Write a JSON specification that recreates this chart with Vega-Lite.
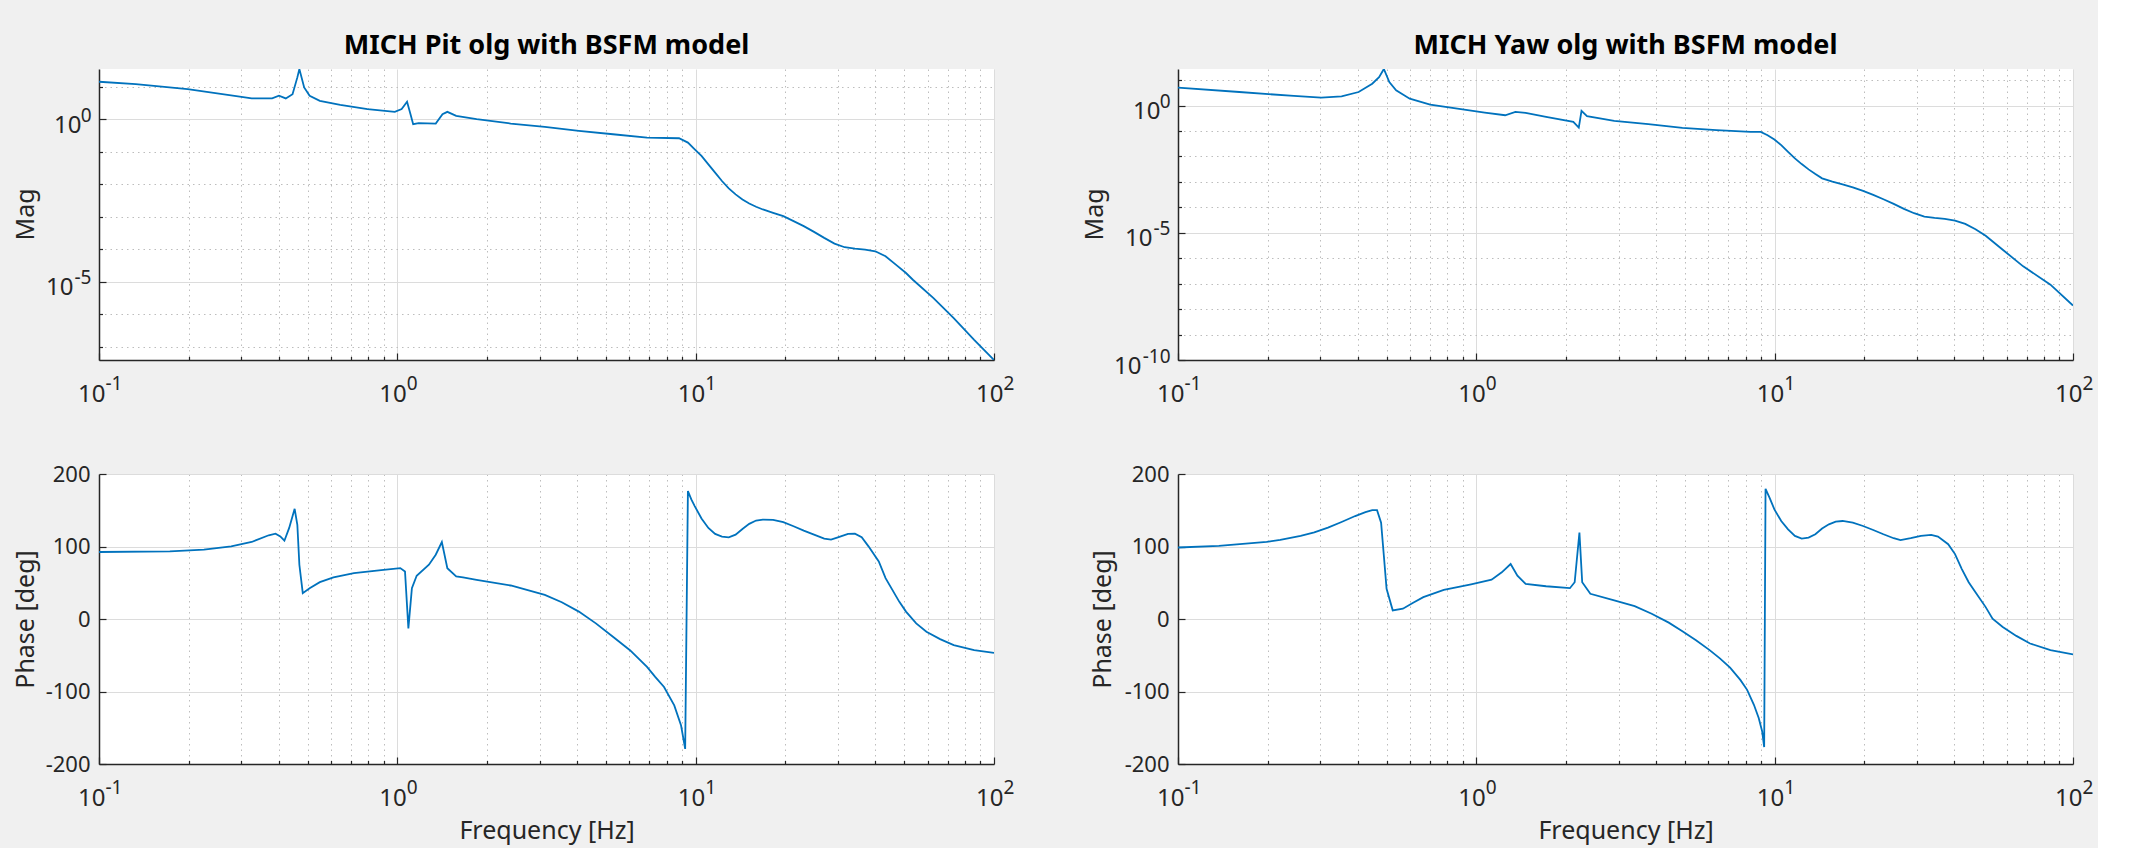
{
  "$schema": "https://vega.github.io/schema/vega-lite/v6.json",
  "background": "#f0f0f0",
  "padding": {"left": 13, "top": 31, "right": 5, "bottom": 5},
  "datasets": {
    "pitMag": [
      {"f": 0.1, "m": 14.19}, {"f": 0.1328, "m": 12.02}, {"f": 0.1982, "m": 8.433}, {"f": 0.3003, "m": 4.887},
      {"f": 0.3249, "m": 4.345}, {"f": 0.3805, "m": 4.345}, {"f": 0.4011, "m": 5.248}, {"f": 0.4227, "m": 4.345},
      {"f": 0.4454, "m": 5.888}, {"f": 0.4622, "m": 19.32}, {"f": 0.4695, "m": 34.7}, {"f": 0.4872, "m": 9.484},
      {"f": 0.5082, "m": 5.248}, {"f": 0.5498, "m": 3.681}, {"f": 0.6436, "m": 2.754}, {"f": 0.7946, "m": 2.042},
      {"f": 0.9806, "m": 1.683}, {"f": 1.034, "m": 2.042}, {"f": 1.078, "m": 3.428}, {"f": 1.107, "m": 1.426},
      {"f": 1.13, "m": 0.7015}, {"f": 1.179, "m": 0.7534}, {"f": 1.345, "m": 0.7345}, {"f": 1.417, "m": 1.426},
      {"f": 1.471, "m": 1.683}, {"f": 1.575, "m": 1.268}, {"f": 1.844, "m": 1.0}, {"f": 2.399, "m": 0.7345},
      {"f": 3.121, "m": 0.5794}, {"f": 4.059, "m": 0.4365}, {"f": 5.281, "m": 0.3443}, {"f": 6.869, "m": 0.2716},
      {"f": 8.795, "m": 0.2594}, {"f": 9.419, "m": 0.1905}, {"f": 9.927, "m": 0.1186}, {"f": 10.46, "m": 0.07379},
      {"f": 11.03, "m": 0.04083}, {"f": 11.62, "m": 0.02259}, {"f": 12.25, "m": 0.0125}, {"f": 12.91, "m": 0.007413},
      {"f": 13.61, "m": 0.004842}, {"f": 14.35, "m": 0.003396}, {"f": 15.12, "m": 0.002553}, {"f": 15.94, "m": 0.002018},
      {"f": 16.8, "m": 0.001667}, {"f": 18.18, "m": 0.001315}, {"f": 19.67, "m": 0.001038}, {"f": 21.29, "m": 0.0007278},
      {"f": 23.03, "m": 0.0005105}, {"f": 24.93, "m": 0.0003412}, {"f": 26.97, "m": 0.0002228}, {"f": 29.19, "m": 0.0001489},
      {"f": 31.58, "m": 0.0001148}, {"f": 34.18, "m": 0.0001044}, {"f": 36.98, "m": 0.00009727}, {"f": 40.02, "m": 0.0000863},
      {"f": 43.3, "m": 0.00006053}, {"f": 46.87, "m": 0.0000335}, {"f": 50.7, "m": 0.00001849}, {"f": 53.46, "m": 0.00001148},
      {"f": 62.56, "m": 0.000003162}, {"f": 73.28, "m": 7.586e-7}, {"f": 85.8, "m": 1.622e-7}, {"f": 100, "m": 3.89e-8}
    ],
    "pitPhase": [
      {"f": 0.1, "p": 92.4}, {"f": 0.1728, "p": 93.3}, {"f": 0.2248, "p": 95.6}, {"f": 0.2774, "p": 100.2},
      {"f": 0.3249, "p": 106.2}, {"f": 0.3706, "p": 115.5}, {"f": 0.3906, "p": 117.8}, {"f": 0.4053, "p": 114},
      {"f": 0.4183, "p": 108}, {"f": 0.434, "p": 125.6}, {"f": 0.4527, "p": 152}, {"f": 0.4622, "p": 130},
      {"f": 0.4695, "p": 74.8}, {"f": 0.482, "p": 35.6}, {"f": 0.5082, "p": 42.5}, {"f": 0.5498, "p": 50.8},
      {"f": 0.6107, "p": 57.3}, {"f": 0.7153, "p": 63.3}, {"f": 0.883, "p": 67.4}, {"f": 1.023, "p": 70.2},
      {"f": 1.061, "p": 65.6}, {"f": 1.089, "p": -12.9}, {"f": 1.119, "p": 42.5}, {"f": 1.161, "p": 59.6},
      {"f": 1.276, "p": 74.8}, {"f": 1.345, "p": 88.7}, {"f": 1.41, "p": 106.2}, {"f": 1.471, "p": 70},
      {"f": 1.575, "p": 58.7}, {"f": 1.66, "p": 57.3}, {"f": 1.844, "p": 54}, {"f": 2.399, "p": 46.2},
      {"f": 3.121, "p": 33.3}, {"f": 3.558, "p": 23.1}, {"f": 4.059, "p": 10.2}, {"f": 4.629, "p": -6},
      {"f": 5.281, "p": -24.5}, {"f": 6.023, "p": -43}, {"f": 6.869, "p": -66}, {"f": 7.317, "p": -79.9},
      {"f": 7.834, "p": -93.8}, {"f": 8.477, "p": -119.2}, {"f": 8.935, "p": -146.9}, {"f": 9.222, "p": -179.2},
      {"f": 9.32, "p": -1.4}, {"f": 9.419, "p": 176.4}, {"f": 9.669, "p": 164.9}, {"f": 9.927, "p": 155.7},
      {"f": 10.46, "p": 138.6}, {"f": 11.03, "p": 125.6}, {"f": 11.62, "p": 117.3}, {"f": 12.25, "p": 113.6},
      {"f": 12.91, "p": 112.7}, {"f": 13.61, "p": 116.4}, {"f": 14.35, "p": 124.2}, {"f": 15.12, "p": 131.2},
      {"f": 15.94, "p": 135.8}, {"f": 16.8, "p": 137.2}, {"f": 18.18, "p": 136.7}, {"f": 19.67, "p": 133.5},
      {"f": 21.29, "p": 127.9}, {"f": 23.03, "p": 121.9}, {"f": 24.93, "p": 116.4}, {"f": 26.97, "p": 110.9},
      {"f": 28.43, "p": 109.5}, {"f": 29.97, "p": 112.7}, {"f": 32.42, "p": 117.3}, {"f": 34.18, "p": 117.8},
      {"f": 36.02, "p": 112.7}, {"f": 37.96, "p": 100.2}, {"f": 41.09, "p": 79.4}, {"f": 43.3, "p": 56.4},
      {"f": 48.11, "p": 24}, {"f": 50.7, "p": 10.2}, {"f": 54.86, "p": -6}, {"f": 59.36, "p": -17.6},
      {"f": 65.96, "p": -27.7}, {"f": 73.28, "p": -36}, {"f": 85.8, "p": -43}, {"f": 100, "p": -46.6}
    ],
    "yawMag": [
      {"f": 0.1, "m": 5.07}, {"f": 0.1605, "m": 3.428}, {"f": 0.2445, "m": 2.393}, {"f": 0.3019, "m": 2.056},
      {"f": 0.3534, "m": 2.323}, {"f": 0.4031, "m": 3.428}, {"f": 0.4478, "m": 7.278}, {"f": 0.4721, "m": 13.18},
      {"f": 0.4898, "m": 27.54}, {"f": 0.5109, "m": 8.453}, {"f": 0.5384, "m": 3.981}, {"f": 0.5981, "m": 1.879},
      {"f": 0.7003, "m": 1.094}, {"f": 0.8643, "m": 0.7638}, {"f": 1.067, "m": 0.5321}, {"f": 1.249, "m": 0.4178},
      {"f": 1.352, "m": 0.5649}, {"f": 1.463, "m": 0.5164}, {"f": 1.713, "m": 0.3597}, {"f": 2.114, "m": 0.2291},
      {"f": 2.205, "m": 0.1374}, {"f": 2.252, "m": 0.618}, {"f": 2.349, "m": 0.382}, {"f": 2.899, "m": 0.2512},
      {"f": 3.771, "m": 0.1858}, {"f": 4.906, "m": 0.1334}, {"f": 6.381, "m": 0.1081}, {"f": 8.3, "m": 0.0931},
      {"f": 8.982, "m": 0.0931}, {"f": 9.467, "m": 0.06887}, {"f": 9.979, "m": 0.04659}, {"f": 10.52, "m": 0.02793},
      {"f": 11.09, "m": 0.01531}, {"f": 11.69, "m": 0.008395}, {"f": 12.32, "m": 0.005036}, {"f": 12.99, "m": 0.003113},
      {"f": 13.69, "m": 0.002044}, {"f": 14.42, "m": 0.001384}, {"f": 15.61, "m": 0.001023}, {"f": 16.89, "m": 0.0008054},
      {"f": 18.28, "m": 0.0006151}, {"f": 19.78, "m": 0.0004416}, {"f": 21.4, "m": 0.0003076}, {"f": 23.15, "m": 0.0002083},
      {"f": 25.06, "m": 0.0001368}, {"f": 27.12, "m": 0.0000871}, {"f": 29.34, "m": 0.0000589}, {"f": 31.75, "m": 0.0000436},
      {"f": 34.36, "m": 0.0000386}, {"f": 37.17, "m": 0.0000353}, {"f": 40.23, "m": 0.0000304}, {"f": 43.53, "m": 0.0000225},
      {"f": 47.11, "m": 0.0000139}, {"f": 50.97, "m": 0.00000764}, {"f": 58.14, "m": 0.00000216}, {"f": 68.08, "m": 4.8e-7},
      {"f": 84.03, "m": 9.18e-8}, {"f": 100, "m": 1.38e-8}
    ],
    "yawPhase": [
      {"f": 0.1, "p": 98.6}, {"f": 0.1371, "p": 100.9}, {"f": 0.1982, "p": 106.4}, {"f": 0.2202, "p": 109.1},
      {"f": 0.2577, "p": 114.6}, {"f": 0.2863, "p": 119.6}, {"f": 0.3182, "p": 126}, {"f": 0.3534, "p": 133.8},
      {"f": 0.3926, "p": 142}, {"f": 0.4249, "p": 147.3}, {"f": 0.4478, "p": 150.2}, {"f": 0.4647, "p": 150.2},
      {"f": 0.4795, "p": 132.9}, {"f": 0.4898, "p": 87.2}, {"f": 0.5002, "p": 41.6}, {"f": 0.5245, "p": 11.9},
      {"f": 0.5674, "p": 14.2}, {"f": 0.614, "p": 22.4}, {"f": 0.6643, "p": 30.1}, {"f": 0.778, "p": 40.2},
      {"f": 0.9603, "p": 47.9}, {"f": 1.125, "p": 54.3}, {"f": 1.217, "p": 64.4}, {"f": 1.303, "p": 75.8},
      {"f": 1.373, "p": 59.8}, {"f": 1.463, "p": 48.4}, {"f": 1.713, "p": 45.2}, {"f": 2.059, "p": 42.5},
      {"f": 2.136, "p": 50.7}, {"f": 2.216, "p": 119.2}, {"f": 2.264, "p": 50.7}, {"f": 2.411, "p": 34.7},
      {"f": 2.899, "p": 25.6}, {"f": 3.394, "p": 17.8}, {"f": 3.87, "p": 7.3}, {"f": 4.416, "p": -5},
      {"f": 4.906, "p": -16.9}, {"f": 5.449, "p": -29.2}, {"f": 6.053, "p": -42.9}, {"f": 6.551, "p": -54.3},
      {"f": 7.089, "p": -67.1}, {"f": 7.672, "p": -84}, {"f": 8.085, "p": -97.7}, {"f": 8.52, "p": -118.3},
      {"f": 8.841, "p": -136.5}, {"f": 9.078, "p": -154.8}, {"f": 9.222, "p": -176.7}, {"f": 9.271, "p": 0.5},
      {"f": 9.32, "p": 179.5}, {"f": 9.618, "p": 167.1}, {"f": 9.979, "p": 151.1}, {"f": 10.52, "p": 135.2},
      {"f": 11.09, "p": 123.7}, {"f": 11.69, "p": 114.6}, {"f": 12.32, "p": 111}, {"f": 12.99, "p": 112.3},
      {"f": 13.69, "p": 116.9}, {"f": 14.42, "p": 124.7}, {"f": 15.2, "p": 130.6}, {"f": 16.02, "p": 134.2},
      {"f": 16.89, "p": 135.2}, {"f": 18.28, "p": 132.9}, {"f": 19.78, "p": 128.3}, {"f": 21.4, "p": 122.8},
      {"f": 23.15, "p": 116.9}, {"f": 25.06, "p": 111.4}, {"f": 26.41, "p": 108.7}, {"f": 28.58, "p": 111.4},
      {"f": 30.93, "p": 114.6}, {"f": 33.47, "p": 116}, {"f": 35.27, "p": 113.7}, {"f": 38.16, "p": 103.2},
      {"f": 40.23, "p": 89.5}, {"f": 42.4, "p": 68.9}, {"f": 44.7, "p": 50.7}, {"f": 47.11, "p": 37},
      {"f": 50.97, "p": 16.4}, {"f": 53.74, "p": 0.5}, {"f": 58.14, "p": -11}, {"f": 64.57, "p": -23.3},
      {"f": 71.77, "p": -33.8}, {"f": 84.03, "p": -42.9}, {"f": 100, "p": -48.9}
    ]
  },
  "columns": 2,
  "spacing": {"row": 114, "column": 184},
  "bounds": "flush",
  "concat": [
    {
      "width": 895,
      "height": 291,
      "title": {"text": "MICH Pit olg with BSFM model", "offset": 9, "anchor": "middle"},
      "data": {"name": "pitMag"},
      "resolve": {"axis": {"x": "independent", "y": "independent"}},
      "layer": [
        {
          "mark": {"type": "line", "strokeOpacity": 0},
          "encoding": {
            "x": {"field": "f", "type": "quantitative", "scale": {"type": "log", "domain": [0.1, 100], "nice": false},
              "axis": {"orient": "bottom", "values": [0.1, 0.2, 0.3, 0.4, 0.5, 0.6, 0.7, 0.8, 0.9, 1, 2, 3, 4, 5, 6, 7, 8, 9, 10, 20, 30, 40, 50, 60, 70, 80, 90, 100],
                "labels": false, "title": null, "grid": true,
                "gridColor": {"condition": {"test": "abs(log(datum.value)/LN10-round(log(datum.value)/LN10))<0.01", "value": "#dcdcdc"}, "value": "#bdbdbd"},
                "gridDash": {"condition": {"test": "abs(log(datum.value)/LN10-round(log(datum.value)/LN10))<0.01", "value": []}, "value": [1.5, 4]},
                "tickSize": {"condition": {"test": "abs(log(datum.value)/LN10-round(log(datum.value)/LN10))<0.01", "value": -7}, "value": -3.5},
                "tickColor": "#262626", "tickWidth": 1.2, "domainColor": "#262626", "domainWidth": 1.5}},
            "y": {"field": "m", "type": "quantitative", "scale": {"type": "log", "domain": [3.89e-8, 35], "nice": false},
              "axis": {"orient": "left", "values": [10, 1, 0.1, 0.01, 0.001, 0.0001, 0.00001, 0.000001, 1e-7],
                "labels": false, "grid": true,
                "gridColor": {"condition": {"test": "abs(round(log(datum.value)/LN10))%5==0", "value": "#dcdcdc"}, "value": "#bdbdbd"},
                "gridDash": {"condition": {"test": "abs(round(log(datum.value)/LN10))%5==0", "value": []}, "value": [1.5, 4]},
                "tickSize": {"condition": {"test": "abs(round(log(datum.value)/LN10))%5==0", "value": -7}, "value": -3.5},
                "tickColor": "#262626", "tickWidth": 1.2, "domainColor": "#262626", "domainWidth": 1.5,
                "title": "Mag", "titleX": -66, "titleY": 145, "titleAngle": 270, "titleAlign": "center", "titleBaseline": "alphabetic"}}
          }
        },
        {
          "mark": {"type": "line", "strokeOpacity": 0},
          "encoding": {
            "x": {"field": "f", "type": "quantitative", "scale": {"type": "log", "domain": [0.1, 100], "nice": false},
              "axis": {"orient": "bottom", "values": [0.1, 1, 10, 100], "labelExpr": "'10'", "grid": false, "ticks": false, "tickSize": 0, "domain": false, "title": null,
                "labelFontSize": 24, "labelAlign": "right", "labelBaseline": "alphabetic", "labelPadding": 41, "labelFlush": false, "labelOverlap": false,
                "labelOffset": {"condition": {"test": "datum.value<0.5", "value": 6}, "value": 9}}},
            "y": {"field": "m", "type": "quantitative", "scale": {"type": "log", "domain": [3.89e-8, 35], "nice": false},
              "axis": {"orient": "left", "values": [1, 0.00001], "labelExpr": "'10'", "grid": false, "ticks": false, "tickSize": 0, "domain": false, "title": null,
                "labelFontSize": 24, "labelAlign": "right", "labelBaseline": "alphabetic", "labelOffset": 13, "labelFlush": false, "labelOverlap": false,
                "labelPadding": {"condition": {"test": "datum.value<0.1", "value": 26}, "value": 18}}}
          }
        },
        {
          "mark": {"type": "line", "color": "#0072bd", "strokeWidth": 1.8, "clip": true},
          "encoding": {
            "x": {"field": "f", "type": "quantitative", "scale": {"type": "log", "domain": [0.1, 100], "nice": false},
              "axis": {"orient": "bottom", "values": [0.1, 1, 10, 100], "labelExpr": "'' + round(log(datum.value)/LN10)", "grid": false, "ticks": false, "tickSize": 0, "domain": false, "title": null,
                "labelFontSize": 19, "labelAlign": "left", "labelBaseline": "alphabetic", "labelPadding": 29, "labelFlush": false, "labelOverlap": false,
                "labelOffset": {"condition": {"test": "datum.value<0.5", "value": 6}, "value": 9}}},
            "y": {"field": "m", "type": "quantitative", "scale": {"type": "log", "domain": [3.89e-8, 35], "nice": false},
              "axis": {"orient": "left", "values": [1, 0.00001], "labelExpr": "'' + round(log(datum.value)/LN10)", "grid": false, "ticks": false, "tickSize": 0, "domain": false, "title": null,
                "labelFontSize": 19, "labelAlign": "right", "labelBaseline": "alphabetic", "labelOffset": 2, "labelPadding": 8, "labelFlush": false, "labelOverlap": false}}
          }
        }
      ]
    },
    {
      "width": 895,
      "height": 291,
      "title": {"text": "MICH Yaw olg with BSFM model", "offset": 9, "anchor": "middle"},
      "data": {"name": "yawMag"},
      "resolve": {"axis": {"x": "independent", "y": "independent"}},
      "layer": [
        {
          "mark": {"type": "line", "strokeOpacity": 0},
          "encoding": {
            "x": {"field": "f", "type": "quantitative", "scale": {"type": "log", "domain": [0.1, 100], "nice": false},
              "axis": {"orient": "bottom", "values": [0.1, 0.2, 0.3, 0.4, 0.5, 0.6, 0.7, 0.8, 0.9, 1, 2, 3, 4, 5, 6, 7, 8, 9, 10, 20, 30, 40, 50, 60, 70, 80, 90, 100],
                "labels": false, "title": null, "grid": true,
                "gridColor": {"condition": {"test": "abs(log(datum.value)/LN10-round(log(datum.value)/LN10))<0.01", "value": "#dcdcdc"}, "value": "#bdbdbd"},
                "gridDash": {"condition": {"test": "abs(log(datum.value)/LN10-round(log(datum.value)/LN10))<0.01", "value": []}, "value": [1.5, 4]},
                "tickSize": {"condition": {"test": "abs(log(datum.value)/LN10-round(log(datum.value)/LN10))<0.01", "value": -7}, "value": -3.5},
                "tickColor": "#262626", "tickWidth": 1.2, "domainColor": "#262626", "domainWidth": 1.5}},
            "y": {"field": "m", "type": "quantitative", "scale": {"type": "log", "domain": [1e-10, 27.5], "nice": false},
              "axis": {"orient": "left", "values": [10, 1, 0.1, 0.01, 0.001, 0.0001, 0.00001, 0.000001, 1e-7, 1e-8, 1e-9, 1e-10],
                "labels": false, "grid": true,
                "gridColor": {"condition": {"test": "abs(round(log(datum.value)/LN10))%5==0", "value": "#dcdcdc"}, "value": "#bdbdbd"},
                "gridDash": {"condition": {"test": "abs(round(log(datum.value)/LN10))%5==0", "value": []}, "value": [1.5, 4]},
                "tickSize": {"condition": {"test": "abs(round(log(datum.value)/LN10))%5==0", "value": -7}, "value": -3.5},
                "tickColor": "#262626", "tickWidth": 1.2, "domainColor": "#262626", "domainWidth": 1.5,
                "title": "Mag", "titleX": -76, "titleY": 145, "titleAngle": 270, "titleAlign": "center", "titleBaseline": "alphabetic"}}
          }
        },
        {
          "mark": {"type": "line", "strokeOpacity": 0},
          "encoding": {
            "x": {"field": "f", "type": "quantitative", "scale": {"type": "log", "domain": [0.1, 100], "nice": false},
              "axis": {"orient": "bottom", "values": [0.1, 1, 10, 100], "labelExpr": "'10'", "grid": false, "ticks": false, "tickSize": 0, "domain": false, "title": null,
                "labelFontSize": 24, "labelAlign": "right", "labelBaseline": "alphabetic", "labelPadding": 41, "labelFlush": false, "labelOverlap": false,
                "labelOffset": {"condition": {"test": "datum.value<0.5", "value": 6}, "value": 9}}},
            "y": {"field": "m", "type": "quantitative", "scale": {"type": "log", "domain": [1e-10, 27.5], "nice": false},
              "axis": {"orient": "left", "values": [1, 0.00001, 1e-10], "labelExpr": "'10'", "grid": false, "ticks": false, "tickSize": 0, "domain": false, "title": null,
                "labelFontSize": 24, "labelAlign": "right", "labelBaseline": "alphabetic", "labelOffset": 13, "labelFlush": false, "labelOverlap": false,
                "labelPadding": {"condition": [{"test": "datum.value<1e-7", "value": 37}, {"test": "datum.value<0.1", "value": 26}], "value": 18}}}
          }
        },
        {
          "mark": {"type": "line", "color": "#0072bd", "strokeWidth": 1.8, "clip": true},
          "encoding": {
            "x": {"field": "f", "type": "quantitative", "scale": {"type": "log", "domain": [0.1, 100], "nice": false},
              "axis": {"orient": "bottom", "values": [0.1, 1, 10, 100], "labelExpr": "'' + round(log(datum.value)/LN10)", "grid": false, "ticks": false, "tickSize": 0, "domain": false, "title": null,
                "labelFontSize": 19, "labelAlign": "left", "labelBaseline": "alphabetic", "labelPadding": 29, "labelFlush": false, "labelOverlap": false,
                "labelOffset": {"condition": {"test": "datum.value<0.5", "value": 6}, "value": 9}}},
            "y": {"field": "m", "type": "quantitative", "scale": {"type": "log", "domain": [1e-10, 27.5], "nice": false},
              "axis": {"orient": "left", "values": [1, 0.00001, 1e-10], "labelExpr": "'' + round(log(datum.value)/LN10)", "grid": false, "ticks": false, "tickSize": 0, "domain": false, "title": null,
                "labelFontSize": 19, "labelAlign": "right", "labelBaseline": "alphabetic", "labelOffset": 2, "labelPadding": 8, "labelFlush": false, "labelOverlap": false}}
          }
        }
      ]
    },
    {
      "width": 895,
      "height": 290,
      "data": {"name": "pitPhase"},
      "resolve": {"axis": {"x": "independent", "y": "independent"}},
      "layer": [
        {
          "mark": {"type": "line", "strokeOpacity": 0},
          "encoding": {
            "x": {"field": "f", "type": "quantitative", "scale": {"type": "log", "domain": [0.1, 100], "nice": false},
              "axis": {"orient": "bottom", "values": [0.1, 0.2, 0.3, 0.4, 0.5, 0.6, 0.7, 0.8, 0.9, 1, 2, 3, 4, 5, 6, 7, 8, 9, 10, 20, 30, 40, 50, 60, 70, 80, 90, 100],
                "labels": false, "title": null, "grid": true,
                "gridColor": {"condition": {"test": "abs(log(datum.value)/LN10-round(log(datum.value)/LN10))<0.01", "value": "#dcdcdc"}, "value": "#bdbdbd"},
                "gridDash": {"condition": {"test": "abs(log(datum.value)/LN10-round(log(datum.value)/LN10))<0.01", "value": []}, "value": [1.5, 4]},
                "tickSize": {"condition": {"test": "abs(log(datum.value)/LN10-round(log(datum.value)/LN10))<0.01", "value": -7}, "value": -3.5},
                "tickColor": "#262626", "tickWidth": 1.2, "domainColor": "#262626", "domainWidth": 1.5}},
            "y": {"field": "p", "type": "quantitative", "scale": {"domain": [-200, 200], "nice": false, "zero": false},
              "axis": {"orient": "left", "values": [-200, -100, 0, 100, 200], "labels": false, "grid": true, "gridColor": "#dcdcdc",
                "tickSize": -7, "tickColor": "#262626", "tickWidth": 1.2, "domainColor": "#262626", "domainWidth": 1.5,
                "title": "Phase [deg]", "titleX": -66, "titleY": 145, "titleAngle": 270, "titleAlign": "center", "titleBaseline": "alphabetic"}}
          }
        },
        {
          "mark": {"type": "line", "strokeOpacity": 0},
          "encoding": {
            "x": {"field": "f", "type": "quantitative", "scale": {"type": "log", "domain": [0.1, 100], "nice": false},
              "axis": {"orient": "bottom", "values": [0.1, 1, 10, 100], "labelExpr": "'10'", "grid": false, "ticks": false, "tickSize": 0, "domain": false, "title": null,
                "labelFontSize": 24, "labelAlign": "right", "labelBaseline": "alphabetic", "labelPadding": 41, "labelFlush": false, "labelOverlap": false,
                "labelOffset": {"condition": {"test": "datum.value<0.5", "value": 6}, "value": 9}}},
            "y": {"field": "p", "type": "quantitative", "scale": {"domain": [-200, 200], "nice": false, "zero": false},
              "axis": {"orient": "left", "values": [-200, -100, 0, 100, 200], "labelExpr": "'' + datum.value", "grid": false, "ticks": false, "tickSize": 0, "domain": false, "title": null,
                "labelFontSize": 22, "labelAlign": "right", "labelBaseline": "middle", "labelPadding": 9, "labelFlush": false, "labelOverlap": false}}
          }
        },
        {
          "mark": {"type": "line", "color": "#0072bd", "strokeWidth": 1.8, "clip": true},
          "encoding": {
            "x": {"field": "f", "type": "quantitative", "scale": {"type": "log", "domain": [0.1, 100], "nice": false},
              "axis": {"orient": "bottom", "values": [0.1, 1, 10, 100], "labelExpr": "'' + round(log(datum.value)/LN10)", "grid": false, "ticks": false, "tickSize": 0, "domain": false,
                "labelFontSize": 19, "labelAlign": "left", "labelBaseline": "alphabetic", "labelPadding": 29, "labelFlush": false, "labelOverlap": false,
                "labelOffset": {"condition": {"test": "datum.value<0.5", "value": 6}, "value": 9},
                "title": "Frequency [Hz]", "titleX": 447.5, "titleY": 74, "titleAlign": "center", "titleBaseline": "alphabetic"}},
            "y": {"field": "p", "type": "quantitative", "scale": {"domain": [-200, 200], "nice": false, "zero": false}, "axis": null}
          }
        }
      ]
    },
    {
      "width": 895,
      "height": 290,
      "data": {"name": "yawPhase"},
      "resolve": {"axis": {"x": "independent", "y": "independent"}},
      "layer": [
        {
          "mark": {"type": "line", "strokeOpacity": 0},
          "encoding": {
            "x": {"field": "f", "type": "quantitative", "scale": {"type": "log", "domain": [0.1, 100], "nice": false},
              "axis": {"orient": "bottom", "values": [0.1, 0.2, 0.3, 0.4, 0.5, 0.6, 0.7, 0.8, 0.9, 1, 2, 3, 4, 5, 6, 7, 8, 9, 10, 20, 30, 40, 50, 60, 70, 80, 90, 100],
                "labels": false, "title": null, "grid": true,
                "gridColor": {"condition": {"test": "abs(log(datum.value)/LN10-round(log(datum.value)/LN10))<0.01", "value": "#dcdcdc"}, "value": "#bdbdbd"},
                "gridDash": {"condition": {"test": "abs(log(datum.value)/LN10-round(log(datum.value)/LN10))<0.01", "value": []}, "value": [1.5, 4]},
                "tickSize": {"condition": {"test": "abs(log(datum.value)/LN10-round(log(datum.value)/LN10))<0.01", "value": -7}, "value": -3.5},
                "tickColor": "#262626", "tickWidth": 1.2, "domainColor": "#262626", "domainWidth": 1.5}},
            "y": {"field": "p", "type": "quantitative", "scale": {"domain": [-200, 200], "nice": false, "zero": false},
              "axis": {"orient": "left", "values": [-200, -100, 0, 100, 200], "labels": false, "grid": true, "gridColor": "#dcdcdc",
                "tickSize": -7, "tickColor": "#262626", "tickWidth": 1.2, "domainColor": "#262626", "domainWidth": 1.5,
                "title": "Phase [deg]", "titleX": -68, "titleY": 145, "titleAngle": 270, "titleAlign": "center", "titleBaseline": "alphabetic"}}
          }
        },
        {
          "mark": {"type": "line", "strokeOpacity": 0},
          "encoding": {
            "x": {"field": "f", "type": "quantitative", "scale": {"type": "log", "domain": [0.1, 100], "nice": false},
              "axis": {"orient": "bottom", "values": [0.1, 1, 10, 100], "labelExpr": "'10'", "grid": false, "ticks": false, "tickSize": 0, "domain": false, "title": null,
                "labelFontSize": 24, "labelAlign": "right", "labelBaseline": "alphabetic", "labelPadding": 41, "labelFlush": false, "labelOverlap": false,
                "labelOffset": {"condition": {"test": "datum.value<0.5", "value": 6}, "value": 9}}},
            "y": {"field": "p", "type": "quantitative", "scale": {"domain": [-200, 200], "nice": false, "zero": false},
              "axis": {"orient": "left", "values": [-200, -100, 0, 100, 200], "labelExpr": "'' + datum.value", "grid": false, "ticks": false, "tickSize": 0, "domain": false, "title": null,
                "labelFontSize": 22, "labelAlign": "right", "labelBaseline": "middle", "labelPadding": 9, "labelFlush": false, "labelOverlap": false}}
          }
        },
        {
          "mark": {"type": "line", "color": "#0072bd", "strokeWidth": 1.8, "clip": true},
          "encoding": {
            "x": {"field": "f", "type": "quantitative", "scale": {"type": "log", "domain": [0.1, 100], "nice": false},
              "axis": {"orient": "bottom", "values": [0.1, 1, 10, 100], "labelExpr": "'' + round(log(datum.value)/LN10)", "grid": false, "ticks": false, "tickSize": 0, "domain": false,
                "labelFontSize": 19, "labelAlign": "left", "labelBaseline": "alphabetic", "labelPadding": 29, "labelFlush": false, "labelOverlap": false,
                "labelOffset": {"condition": {"test": "datum.value<0.5", "value": 6}, "value": 9},
                "title": "Frequency [Hz]", "titleX": 447.5, "titleY": 74, "titleAlign": "center", "titleBaseline": "alphabetic"}},
            "y": {"field": "p", "type": "quantitative", "scale": {"domain": [-200, 200], "nice": false, "zero": false}, "axis": null}
          }
        }
      ]
    }
  ],
  "config": {
    "view": {"fill": "white", "stroke": null},
    "axis": {"labelFont": "Noto Sans", "labelColor": "#262626", "titleFont": "Noto Sans", "titleColor": "#262626", "titleFontWeight": "normal", "titleFontSize": 25},
    "title": {"font": "Noto Sans", "fontSize": 27, "fontWeight": "bold", "color": "#000000"}
  }
}
